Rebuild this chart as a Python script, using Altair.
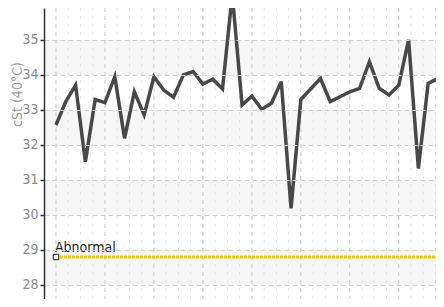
import altair as alt
import pandas as pd

values = [32.57, 33.24, 33.71, 31.52, 33.30, 33.21, 33.95, 32.19, 33.52, 32.86,
          33.95, 33.57, 33.36, 34.00, 34.10, 33.74, 33.88, 33.60, 36.30, 33.14,
          33.40, 33.02, 33.19, 33.81, 30.19, 33.30, 33.60, 33.90, 33.24, 33.38,
          33.52, 33.62, 34.38, 33.62, 33.43, 33.71, 35.00, 31.33, 33.76, 33.90]
index = list(range(len(values)))
y_ticks = [28, 29, 30, 31, 32, 33, 34, 35]
band_lo = [28, 30, 32, 34]
band_hi = [29, 31, 33, 35]
major_x = [0, 5, 10, 15, 20, 25, 30, 35]
minor_x = [i * 1.25 for i in range(-1, 32) if (i % 4) != 0]
threshold_value = 28.8
threshold_label = "Abnormal"
threshold_start = [0]
threshold_end = [39]

W, H = 392, 291
FONT = "Liberation Sans Narrow, DejaVu Sans Condensed, Roboto, sans-serif"

xscale = alt.Scale(domain=[-1.225, 38.8], nice=False, zero=False)
yscale = alt.Scale(domain=[27.6, 35.914], nice=False, zero=False)

line_df = pd.DataFrame({"i": index, "v": values})
band_df = pd.DataFrame({"lo": band_lo, "hi": band_hi})
major_df = pd.DataFrame({"x": major_x})
minor_df = pd.DataFrame({"x": minor_x})
thr_df = pd.DataFrame({"x": threshold_start, "x2": threshold_end,
                       "y": [threshold_value], "label": [threshold_label]})

bands = alt.Chart(band_df).mark_rect(color="#000000", opacity=0.035).encode(
    x=alt.value(0), x2=alt.value(W),
    y=alt.Y("lo:Q", scale=yscale), y2="hi:Q")

minor_grid = alt.Chart(minor_df).mark_rule(
    color="#e3e3e3", strokeWidth=1, strokeDash=[3, 5], clip=True).encode(
    x=alt.X("x:Q", scale=xscale, axis=None))

major_grid = alt.Chart(major_df).mark_rule(
    color="#c8c8c8", strokeWidth=1, strokeDash=[4, 4], clip=True).encode(
    x=alt.X("x:Q", scale=xscale, axis=None))

line = alt.Chart(line_df).mark_line(
    color="#484848", strokeWidth=3.5, strokeJoin="miter", clip=True).encode(
    x=alt.X("i:Q", scale=xscale, axis=None),
    y=alt.Y("v:Q", scale=yscale,
            axis=alt.Axis(values=y_ticks, grid=True, gridColor="#cfcfcf",
                          gridDash=[5, 3], gridWidth=1, domainColor="#333333",
                          domainWidth=1.5, tickColor="#333333", tickSize=4,
                          tickWidth=1.5, labelColor="#8a8a8a", labelFont=FONT,
                          labelFontSize=14, labelPadding=2,
                          title="cSt (40°C)", titleColor="#9a9a9a",
                          titleFont=FONT, titleFontSize=14, titleFontWeight="normal",
                          titleX=-27, titleY=86, titleAlign="center",
                          titleBaseline="middle", titleAngle=270, zindex=1)))

thr = alt.Chart(thr_df).mark_rule(color="#f5c400", strokeWidth=3,
                                  strokeDash=[3, 1], clip=True).encode(
    x=alt.X("x:Q", scale=xscale, axis=None), x2="x2:Q",
    y=alt.Y("y:Q", scale=yscale))

marker = alt.Chart(thr_df).mark_point(shape="square", size=30, filled=True,
                                      fill="white", stroke="#222222",
                                      strokeWidth=1, opacity=1).encode(
    x=alt.X("x:Q", scale=xscale, axis=None), y=alt.Y("y:Q", scale=yscale))

label = alt.Chart(thr_df).mark_text(align="left", baseline="alphabetic", dy=-5,
                                    dx=-1, font=FONT, fontSize=14,
                                    color="#222222").encode(
    x=alt.X("x:Q", scale=xscale, axis=None), y=alt.Y("y:Q", scale=yscale),
    text="label:N")

chart = alt.layer(bands, minor_grid, major_grid, line, thr, marker, label).properties(
    width=W, height=H,
    padding={"left": 36, "top": 0, "right": 0, "bottom": 0},
    autosize=alt.AutoSizeParams(type="none"),
    background="white").configure_view(stroke=None)

chart.save("out.html", embed_options={"renderer": "svg", "actions": False})
